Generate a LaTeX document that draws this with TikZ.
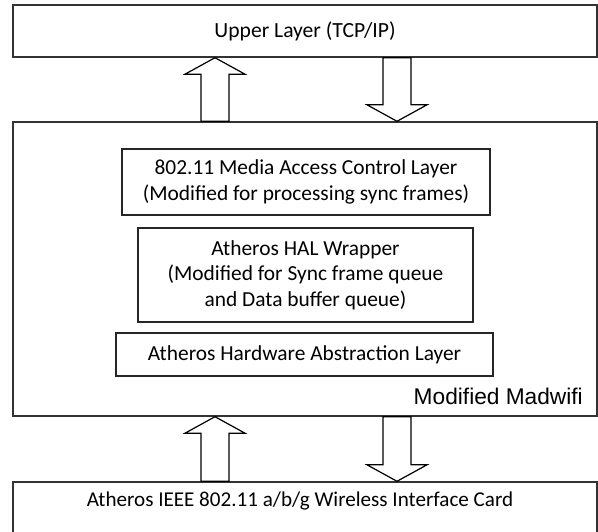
\documentclass[tikz,border=0pt]{standalone}
\usepackage{fontspec}
\setmainfont{Carlito}
\newfontfamily\arialfont{Liberation Sans}
\usetikzlibrary{calc}

% hollow block arrow from #1 (tail) to #2 (tip)
\newcommand{\fatarrow}[2]{%
  \coordinate (hb) at ($(#2)!16.5pt!(#1)$);
  \draw[block arrow] ($(#1)+(-14,0)$) -- ($(hb)+(-14,0)$) -- ($(hb)+(-30,0)$) -- (#2)
    -- ($(hb)+(30,0)$) -- ($(hb)+(14,0)$) -- ($(#1)+(14,0)$) -- cycle;}

\begin{document}
\begin{tikzpicture}[x=1pt,y=-1pt,
    layer box/.style={rectangle,draw=black!80,line width=1.4pt,fill=white,inner sep=0pt},
    inner box/.style={rectangle,draw=black!85,line width=1.2pt,align=center,inner sep=0pt,
                      font=\fontsize{21.4}{25.5}\selectfont},
    block arrow/.style={draw=black,line width=1.2pt,fill=white,line join=miter}]
  \clip (0,0) rectangle (598,531);
  \fill[white] (0,0) rectangle (598,531);

  \node[layer box,minimum width=584pt,minimum height=52pt,font=\fontsize{21.6}{24}\selectfont] (upper) at (305,31) {Upper Layer (TCP/IP)};
  \node[layer box,minimum width=584pt,minimum height=294pt] (madwifi) at (305,269) {};
  \node[layer box,minimum width=584pt,minimum height=64pt] (card) at (305,514) {};

  \node[inner box,minimum width=368pt,minimum height=66pt] (mac) at (306,182)
    {802.11 Media Access Control Layer\\(Modified for processing sync frames)};
  \node[inner box,minimum width=335pt,minimum height=94pt] (wrapper) at (305.5,275)
    {Atheros HAL Wrapper\\(Modified for Sync frame queue\\and Data buffer queue)};
  \node[inner box,minimum width=377pt,minimum height=43pt] (hal) at (304.5,354.5)
    {Atheros Hardware Abstraction Layer};

  \node[anchor=base east,inner sep=0pt,font=\arialfont\fontsize{22.7}{25}\selectfont] (madlabel)
    at (583,404) {Modified Madwifi};
  \node[inner sep=0pt,font=\fontsize{21.1}{24}\selectfont] (cardlabel) at ($(card.north)+(-5,20)$)
    {Atheros IEEE 802.11 a/b/g Wireless Interface Card};

  % arrows between the layers
  \coordinate (up1 tail) at (215,0 |- madwifi.north);
  \coordinate (up1 tip) at (215,0 |- upper.south);
  \coordinate (dn1 tail) at (397,0 |- upper.south);
  \coordinate (dn1 tip) at (397,0 |- madwifi.north);
  \coordinate (up2 tail) at (215,0 |- card.north);
  \coordinate (up2 tip) at (215,0 |- madwifi.south);
  \coordinate (dn2 tail) at (397,0 |- madwifi.south);
  \coordinate (dn2 tip) at (397,0 |- card.north);
  \fatarrow{up1 tail}{up1 tip}
  \fatarrow{dn1 tail}{dn1 tip}
  \fatarrow{up2 tail}{up2 tip}
  \fatarrow{dn2 tail}{dn2 tip}
\end{tikzpicture}
\end{document}
